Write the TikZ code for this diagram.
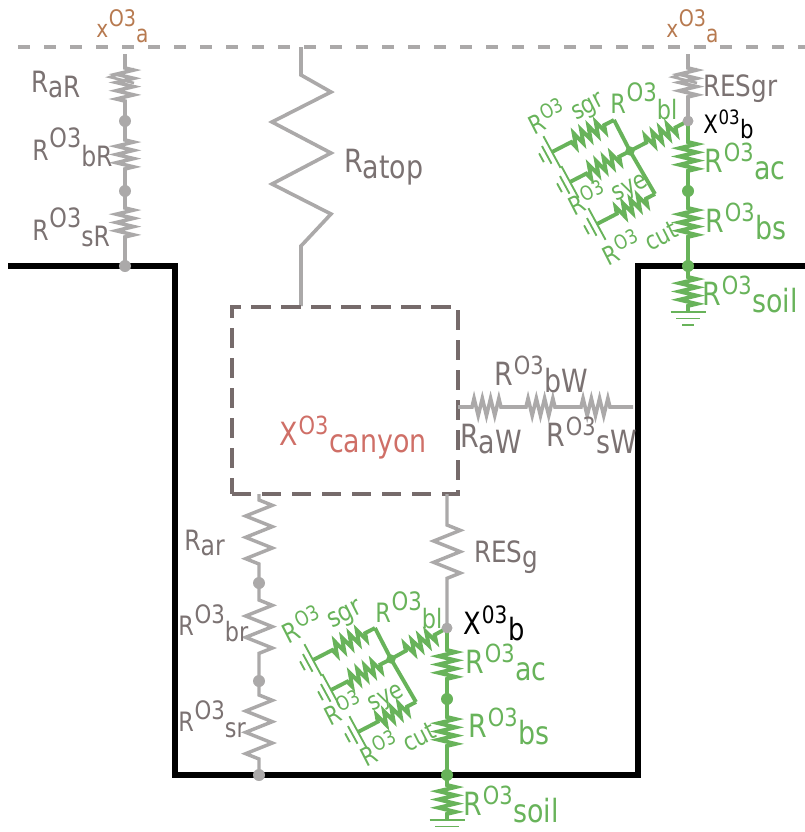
\documentclass[tikz,border=0pt]{standalone}
\usepackage{fontspec}
\setmainfont[FakeStretch=.84]{DejaVu Sans}
\usetikzlibrary{decorations.pathmorphing,calc}
\definecolor{wire}{HTML}{ABA9A9}
\definecolor{grn}{HTML}{68B35A}
\definecolor{txt}{HTML}{7B7272}
\definecolor{brn}{HTML}{B77A50}
\definecolor{red1}{HTML}{CF6F67}
\definecolor{boxc}{HTML}{766B6B}
\newcommand{\fs}[1]{\fontsize{#1}{#1}\selectfont}
\newcommand{\lab}[4][20]{{\fs{#1}#2\kern.03em\raisebox{.44em}{\fs{\fpeval{#1*.95}}#3}\raisebox{-.24em}{#4}}}
\newcommand{\labq}[4][20]{{\fs{#1}#2\kern.03em\raisebox{.34em}{\fs{\fpeval{#1*.78}}#3}\kern.02em\raisebox{-.22em}{#4}}}
\newcommand{\sublab}[3][20]{{\fs{#1}#2\raisebox{-.2em}{#3}}}
\tikzset{
  x=.75pt,y=-.75pt,
  line join=round,
  wg/.style={draw=wire,line width=2.7pt},
  wn/.style={draw=grn,line width=2.9pt},
  res/.style 2 args={decorate,decoration={zigzag,segment length=6.2pt,amplitude=6.5pt,pre length=.75*#1,post length=.75*#2}},
  bres/.style 2 args={decorate,decoration={zigzag,segment length=6.2pt,amplitude=5pt,pre length=.75*#1,post length=.75*#2}},
  longres/.style 2 args={decorate,decoration={zigzag,segment length=16pt,amplitude=10pt,pre length=.75*#1,post length=.75*#2}},
  dotg/.style={circle,fill=wire,inner sep=0pt,minimum size=9pt},
  dotn/.style={circle,fill=grn,inner sep=0pt,minimum size=9pt},
  tl/.style={anchor=base west,inner sep=0pt,text=txt},
  gl/.style={anchor=base west,inner sep=0pt,text=grn},
  rl/.style={inner sep=0pt,text=grn,rotate=27},
  thinn/.style={draw=grn,line width=1.4pt},
}
\newcommand{\spike}[2]{\draw[wire,line width=2pt] ($(#1)+(9,#2)$) -- ($(#1)+(-15,#2+8)$) -- ($(#1)+(9,#2+14)$);}
\newcommand{\gnd}[1]{\draw[thinn] ($(#1)+(-17.5,0)$) -- ($(#1)+(17.5,0)$) ($(#1)+(-12,6.5)$) -- ($(#1)+(12,6.5)$) ($(#1)+(-6,13)$) -- ($(#1)+(6,13)$);}
\newcommand{\branch}[2]{%
  \node[dotn,minimum size=7pt] (#1j) at (391,659) {};
  \coordinate (#1a) at (375,628);
  \coordinate (#1c) at (416,702);
  \coordinate (#1u) at (313,660);
  \coordinate (#1m) at (331,690);
  \coordinate (#1l) at (358,732);
  \draw[wn,bres={14}{16}] (#2.center) -- (#1j.center);
  \draw[wn] (#1a) -- (#1j.center) -- (#1c);
  \draw[wn,bres={11}{20}] (#1a) -- (#1u);
  \draw[wn,bres={12}{17}] (#1j.center) -- (#1m);
  \draw[wn,bres={10}{22}] (#1c) -- (#1l);
  \foreach \p in {u,m,l}{
    \begin{scope}[shift={(#1\p)},rotate=28.5]
      \draw[thinn] (0,-18) -- (0,18) (-6,-10) -- (-6,10) (-12,-5) -- (-12,5);
    \end{scope}}
}
\begin{document}
\begin{tikzpicture}
\useasboundingbox (0,0) rectangle (805,832);
\coordinate (sl) at (8,266); \coordinate (c1) at (175,266); \coordinate (c2) at (175,775);
\coordinate (c3) at (638,775); \coordinate (c4) at (638,266); \coordinate (sr) at (805,266);
\draw[line width=4.6pt,black,line join=miter] (sl) -- (c1) -- (c2) -- (c3) -- (c4) -- (sr);
\coordinate (al) at (18,47); \coordinate (ar) at (805,47);
\draw[wire,line width=2.5pt,dash pattern=on 9pt off 10.5pt] (al) -- (ar);

% left roof column
\coordinate (t1) at (125,54);
\node[dotg] (n1) at (125,121) {};
\node[dotg] (n2) at (125,191) {};
\node[dotg] (n3) at (125,266) {};
\draw[wg,res={14}{16}] (t1) -- (n1.center);
\draw[wg,res={19}{18}] (n1.center) -- (n2.center);
\draw[wg,res={17}{26}] (n2.center) -- (n3.center);
\spike{125,69}{0}

% top resistance
\coordinate (t2) at (301,47);
\coordinate (bt) at (301,306);
\draw[wire,line width=2.7pt] (t2) -- (301,75) -- (331,92) -- (272,122) -- (331,153) -- (272,184) -- (331,214) -- (301,246) -- (bt);

% canyon box
\node[draw=boxc,line width=3.2pt,dash pattern=on 14.5pt off 8pt,minimum width=169.5pt,minimum height=140pt,inner sep=0pt,outer sep=0pt,anchor=north west] (box) at (232,307) {};

% wall
\coordinate (wl) at (458,407);
\coordinate (w1) at (515,407);
\coordinate (w2) at (569,407);
\coordinate (wr) at (633,407);
\draw[wg,res={14}{12}] (wl) -- (w1);
\draw[wg,res={11}{12}] (w1) -- (w2);
\draw[wg,res={12}{21}] (w2) -- (wr);

% road column
\coordinate (rt) at (259,494);
\node[dotg] (r1) at (259,583) {};
\node[dotg] (r2) at (259,681) {};
\node[dotg] (r3) at (259,775) {};
\draw[wire,line width=2.6pt,longres={6}{18}] (rt) -- (r1.center);
\draw[wire,line width=2.6pt,longres={17}{21}] (r1.center) -- (r2.center);
\draw[wire,line width=2.6pt,longres={14}{15}] (r2.center) -- (r3.center);

% ground-level vegetation column
\coordinate (gt) at (447,494);
\node[dotg,minimum size=8pt] (xb) at (447,628) {};
\draw[wire,line width=2.6pt,longres={31}{43}] (gt) -- (xb.center);
\node[dotn] (g1) at (447,699) {};
\node[dotn] (g2) at (447,775) {};
\coordinate (g3) at (447,820);
\draw[wn,res={22}{16}] (xb.center) -- (g1.center);
\draw[wn,res={18}{27}] (g1.center) -- (g2.center);
\draw[wn,res={10}{2}] (g2.center) -- (g3);
\gnd{g3}
\branch{lo}{xb}
\node[dotg,minimum size=8pt] at (xb) {};

% upper vegetation column
\coordinate (ut) at (688,54);
\node[dotg,minimum size=8pt] (xu) at (688,121) {};
\draw[wg,res={14}{21}] (ut) -- (xu.center);
\spike{688,69}{0}
\node[dotn] (u1) at (688,191) {};
\node[dotn] (u2) at (688,266) {};
\coordinate (u3) at (688,312);
\draw[wn,res={21}{16}] (xu.center) -- (u1.center);
\draw[wn,res={17}{26}] (u1.center) -- (u2.center);
\draw[wn,res={11}{2}] (u2.center) -- (u3);
\gnd{u3}
\begin{scope}[shift={(239,-508)}]
\branch{up}{xu}
\end{scope}
\node[dotg,minimum size=8pt] at (xu) {};

% labels
\node[anchor=base west,inner sep=0pt,text=brn] (xa1) at (96,37) {\lab[18]{x}{O3}{a}};
\node[anchor=base west,inner sep=0pt,text=brn] (xa2) at (666,37) {\lab[18]{x}{O3}{a}};
\node[tl] (l1) at (31,92) {\sublab[22]{R}{aR}};
\node[tl] (l2) at (32,160) {\lab[21]{R}{O3}{bR}};
\node[tl] (l3) at (32,240) {\lab[21]{R}{O3}{sR}};
\node[tl] (l4) at (344,172) {\sublab[24]{R}{atop}};
\node[tl] (l5) at (703,96) {{\fs{22}RESgr}};
\node[anchor=base west,inner sep=0pt,text=black] (l6) at (703,133) {\labq[19]{X}{03}{b}};
\node[anchor=base west,inner sep=0pt,text=black] (l7) at (463,634) {\labq[23]{X}{03}{b}};
\node[gl] (l8) at (704,172) {\labq[24]{R}{O3}{ac}};
\node[gl] (l9) at (705,232) {\labq[24]{R}{O3}{bs}};
\node[gl] (l10) at (702,305) {\labq[24]{R}{O3}{soil}};
\node[gl] (l11) at (465,673) {\labq[24]{R}{O3}{ac}};
\node[gl] (l12) at (468,737) {\labq[24]{R}{O3}{bs}};
\node[gl] (l13) at (463,815) {\labq[24]{R}{O3}{soil}};
\node[anchor=base west,inner sep=0pt,text=red1] (l14) at (279,445) {\labq[24]{X}{O3}{canyon}};
\node[tl] (l15) at (494,385) {\labq[24]{R}{O3}{bW}};
\node[tl] (l16) at (460,447) {\sublab[24]{R}{aW}};
\node[tl] (l17) at (546,446) {\labq[24]{R}{O3}{sW}};
\node[tl] (l18) at (184,550) {\sublab[21]{R}{ar}};
\node[tl] (l19) at (178,635) {\lab[20]{R}{O3}{br}};
\node[tl] (l20) at (178,731) {\lab[20]{R}{O3}{sr}};
\node[tl] (l21) at (474,562) {\sublab[22]{RES}{g}};
\node[rl] (s1) at (322,620) {\labq[20]{R}{O3}{\,sgr}};
\node[rl] (s2) at (566,112) {\labq[19]{R}{O3}{\,sgr}};
\node[gl] (s3) at (375,622) {\lab[20]{R}{O3}{bl}};
\node[gl] (s4) at (610,113) {\lab[20]{R}{O3}{bl}};
\node[rl] (s5) at (364,703) {\labq[19]{R}{O3}{\,sye}};
\node[rl] (s6) at (608,193) {\labq[19]{R}{O3}{\,sye}};
\node[rl] (s7) at (397,742) {\labq[19]{R}{O3}{\,cut}};
\node[rl] (s8) at (639,241) {\labq[19]{R}{O3}{\,cut}};
\end{tikzpicture}
\end{document}
